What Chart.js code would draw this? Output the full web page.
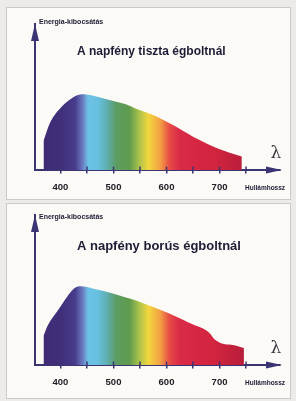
<!DOCTYPE html>
<html>
<head>
<meta charset="utf-8">
<script src="https://cdn.jsdelivr.net/npm/chart.js@4.4.1/dist/chart.umd.min.js"></script>
<style>
  html, body { margin: 0; padding: 0; }
  body { width: 296px; height: 401px; background: #ecebe7; position: relative; overflow: hidden; }
  .panel { position: absolute; left: 6px; width: 283px; background: #fbfaf7; border: 1px solid #cbcac6; }
  #panel1 { top: 7px; height: 191px; }
  #panel2 { top: 203px; height: 194px; }
  .chart-box { position: absolute; left: 0; width: 296px; }
  #box1 { top: 0; height: 202px; }
  #box2 { top: 200px; height: 197px; }
</style>
</head>
<body>
<div class="panel" id="panel1"></div>
<div class="panel" id="panel2"></div>
<div class="chart-box" id="box1"><canvas id="clearChart"></canvas></div>
<div class="chart-box" id="box2"><canvas id="cloudyChart"></canvas></div>
<script>
// wavelength (nm) and relative energy
const clearWavelengths = [368, 381, 400, 418, 440, 462, 485, 522, 545, 577, 613, 650, 699, 742];
const clearEnergy      = [31, 51, 66, 75, 80.5, 79, 75.5, 70, 64.5, 58, 47.5, 35.5, 22.5, 14.5];

const cloudyWavelengths = [368, 376, 394, 412, 425, 438, 462, 485, 522, 545, 577, 604, 631, 650, 668, 681, 691, 704, 722, 738, 746];
const cloudyEnergy      = [31, 42, 57, 72, 81, 83.5, 81, 78, 72, 68, 61, 55, 48, 43, 39, 34, 27, 23, 21.5, 19.5, 18];

const tickValues = [400, 450, 500, 550, 600, 650, 700, 750];
const tickLabels = [400, 500, 600, 700];

// spectrum colours along the wavelength axis
const spectrumStops  = [368, 405, 428, 442, 452, 470, 488, 505, 530, 548, 566, 588, 606, 625, 690, 746];
const spectrumColors = ['#3f2a74', '#41307c', '#4a3c8c', '#6a7cc0', '#6cc2e6', '#68c0e0', '#5faeb0', '#5c9c62',
                        '#5f9b4e', '#a9c24a', '#f2d73e', '#f3a043', '#e64a45', '#d92a47', '#d2243f', '#b81d3a'];

const AXIS_COLOR = '#3a3572';
const TEXT_COLOR = '#1f1c35';
const FONT = '"Liberation Sans", Arial, sans-serif';

function spectrumFill(context) {
  const { chart } = context;
  const { ctx, chartArea, scales } = chart;
  if (!chartArea) return null;
  const x = scales.x;
  const x0 = x.getPixelForValue(spectrumStops[0]);
  const x1 = x.getPixelForValue(spectrumStops[spectrumStops.length - 1]);
  const g = ctx.createLinearGradient(x0, 0, x1, 0);
  spectrumStops.forEach((w, i) => {
    g.addColorStop((x.getPixelForValue(w) - x0) / (x1 - x0), spectrumColors[i]);
  });
  return g;
}

// arrows, upper half of the tick marks and the texts inside the panel
const spectrumDecor = {
  id: 'spectrumDecor',
  afterDraw(chart, args, opts) {
    const { ctx, chartArea: { left, right, top, bottom }, scales: { x } } = chart;
    ctx.save();
    ctx.fillStyle = AXIS_COLOR;
    ctx.strokeStyle = AXIS_COLOR;

    ctx.beginPath();
    ctx.moveTo(left, top);
    ctx.lineTo(left - 4, top + 17);
    ctx.lineTo(left + 4, top + 17);
    ctx.closePath();
    ctx.fill();

    ctx.beginPath();
    ctx.moveTo(right + 2, bottom);
    ctx.lineTo(right - 14, bottom - 3.5);
    ctx.lineTo(right - 14, bottom + 3.5);
    ctx.closePath();
    ctx.fill();

    ctx.lineWidth = 1.5;
    x.ticks.forEach(t => {
      const px = x.getPixelForValue(t.value);
      ctx.beginPath();
      ctx.moveTo(px, bottom - 3.5);
      ctx.lineTo(px, bottom);
      ctx.stroke();
    });

    ctx.fillStyle = TEXT_COLOR;
    ctx.textBaseline = 'middle';
    ctx.textAlign = 'left';
    ctx.font = 'bold 7px ' + FONT;
    ctx.fillText('Energia-kibocsátás', left + 4, opts.yLabelY);

    ctx.font = 'bold ' + opts.titleSize + 'px ' + FONT;
    ctx.fillText(opts.title, 77, opts.titleY);

    ctx.font = 'bold 6.5px ' + FONT;
    ctx.fillText('Hullámhossz', 245, bottom + 18);

    ctx.fillStyle = '#3a3840';
    ctx.textAlign = 'center';
    ctx.font = '17px "DejaVu Serif", serif';
    ctx.fillText('λ', right - 4, bottom - 17);
    ctx.restore();
  }
};

function makeChart(id, wavelengths, energy, yMax, padTop, decor) {
  return new Chart(document.getElementById(id), {
    type: 'line',
    data: {
      datasets: [{
        data: wavelengths.map((w, i) => ({ x: w, y: energy[i] })),
        fill: 'origin',
        backgroundColor: spectrumFill,
        borderColor: 'rgba(0,0,0,0)',
        borderWidth: 0,
        pointRadius: 0,
        cubicInterpolationMode: 'monotone'
      }]
    },
    options: {
      responsive: true,
      maintainAspectRatio: false,
      animation: false,
      layout: { padding: { top: padTop, left: 27, right: 16, bottom: 0 } },
      plugins: { legend: { display: false }, tooltip: { enabled: false }, spectrumDecor: decor },
      scales: {
        x: {
          type: 'linear', min: 352, max: 814, z: 1,
          afterBuildTicks: s => { s.ticks = tickValues.map(v => ({ value: v })); },
          grid: { display: true, drawOnChartArea: false, drawTicks: true, tickLength: 3.5, color: AXIS_COLOR, lineWidth: 1.5 },
          border: { display: true, color: AXIS_COLOR, width: 2 },
          ticks: {
            padding: 8.5, maxRotation: 0, autoSkip: false, color: '#222026',
            font: { family: FONT, size: 9.5, weight: 'bold' },
            callback: v => tickLabels.includes(v) ? String(v) : ''
          }
        },
        y: {
          min: 0, max: yMax, z: 1,
          grid: { display: false },
          ticks: { display: false },
          border: { display: true, color: AXIS_COLOR, width: 2 }
        }
      }
    },
    plugins: [spectrumDecor]
  });
}

makeChart('clearChart', clearWavelengths, clearEnergy, 155, 24,
  { title: 'A napfény tiszta égboltnál', titleSize: 12, titleY: 52, yLabelY: 22 });
makeChart('cloudyChart', cloudyWavelengths, cloudyEnergy, 159, 15,
  { title: 'A napfény borús égboltnál', titleSize: 13, titleY: 46, yLabelY: 17 });
</script>
</body>
</html>
